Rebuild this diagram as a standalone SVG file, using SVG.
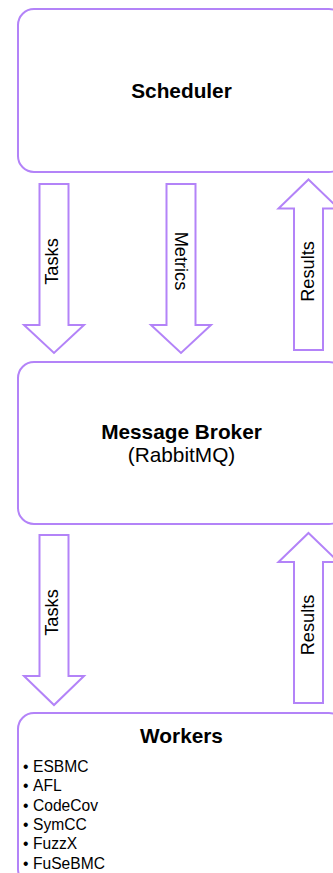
<svg xmlns="http://www.w3.org/2000/svg" width="333" height="873" viewBox="0 0 333 873">
  <style>
    .box { fill: #ffffff; stroke: #b383f8; stroke-width: 2; }
    .arrow { fill: #ffffff; stroke: #b383f8; stroke-width: 2; stroke-linejoin: miter; }
    text { font-family: "Liberation Sans", Arial, sans-serif; fill: #000000; }
    .title { font-size: 20.8px; font-weight: bold; text-anchor: middle; }
    .sub { font-size: 20.8px; text-anchor: middle; }
    .lbl { font-size: 18.2px; text-anchor: middle; }
    .item { font-size: 15.6px; }
  </style>
  <rect width="333" height="873" fill="#ffffff"/>
  <g id="connectors">
    <g id="tasks1">
      <polygon class="arrow" points="39.5,184 68.5,184 68.5,325 84,325 54,353 24,325 39.5,325"/>
      <text class="lbl" transform="translate(57.5,261.5) rotate(-90)">Tasks</text>
    </g>
    <g id="metrics">
      <polygon class="arrow" points="166.5,184 195.5,184 195.5,325 211,325 181,353 151,325 166.5,325"/>
      <text class="lbl" transform="translate(175,261) rotate(90)">Metrics</text>
    </g>
    <g id="results1">
      <polygon class="arrow" points="308.5,179.5 338.5,208.5 323,208.5 323,350 294,350 294,208.5 278.5,208.5"/>
      <text class="lbl" transform="translate(313.5,271.5) rotate(-90)">Results</text>
    </g>
    <g id="tasks2">
      <polygon class="arrow" points="39.5,535 68.5,535 68.5,676 84,676 54,705 24,676 39.5,676"/>
      <text class="lbl" transform="translate(57.5,612.5) rotate(-90)">Tasks</text>
    </g>
    <g id="results2">
      <polygon class="arrow" points="308.5,533 338.5,562 323,562 323,703 294,703 294,562 278.5,562"/>
      <text class="lbl" transform="translate(313.5,625) rotate(-90)">Results</text>
    </g>
  </g>
  <g id="scheduler">
    <rect class="box" x="18" y="9" width="327" height="163" rx="16" ry="16"/>
    <text class="title" x="181.5" y="97.5">Scheduler</text>
  </g>
  <g id="broker">
    <rect class="box" x="18" y="362" width="327" height="162" rx="16" ry="16"/>
    <text class="title" x="181.5" y="439">Message Broker</text>
    <text class="sub" x="181.5" y="461.5">(RabbitMQ)</text>
  </g>
  <g id="workers">
    <rect class="box" x="18" y="713" width="327" height="172" rx="16" ry="16"/>
    <text class="title" x="181.5" y="742.5">Workers</text>
    <text class="item" x="23" y="772">•</text><text class="item" x="33" y="772">ESBMC</text>
    <text class="item" x="23" y="791.3">•</text><text class="item" x="33" y="791.3">AFL</text>
    <text class="item" x="23" y="810.6">•</text><text class="item" x="33" y="810.6">CodeCov</text>
    <text class="item" x="23" y="829.9">•</text><text class="item" x="33" y="829.9">SymCC</text>
    <text class="item" x="23" y="849.2">•</text><text class="item" x="33" y="849.2">FuzzX</text>
    <text class="item" x="23" y="868.5">•</text><text class="item" x="33" y="868.5">FuSeBMC</text>
  </g>
</svg>
